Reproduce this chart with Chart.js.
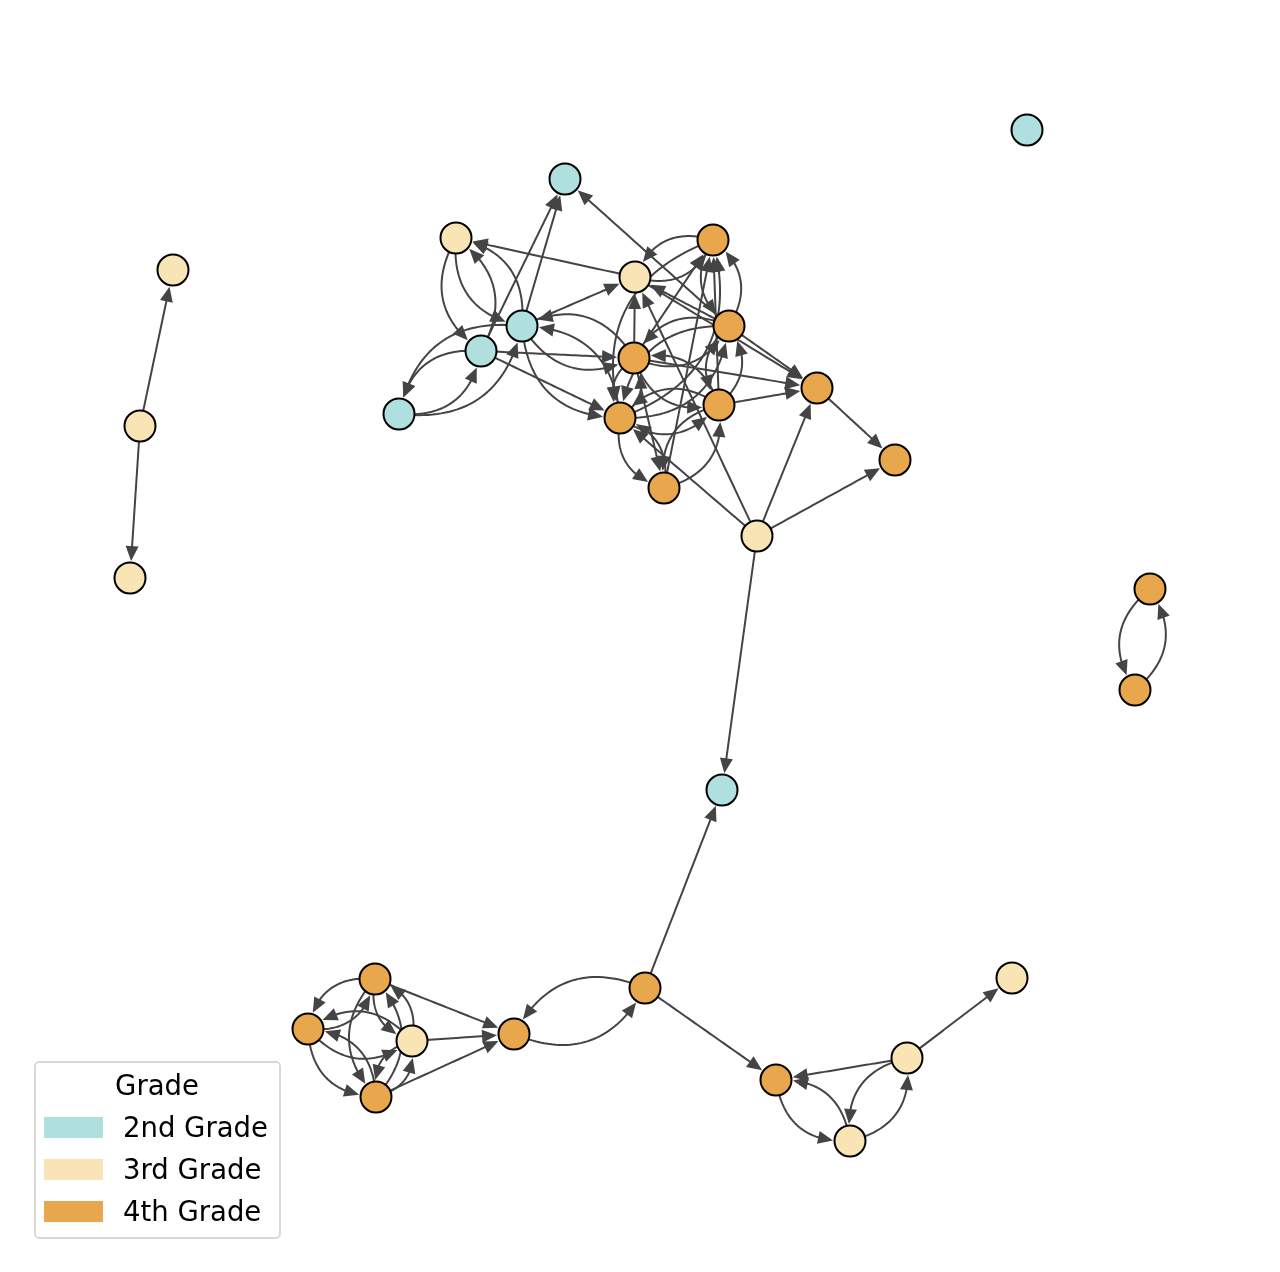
<!DOCTYPE html>
<html>
<head>
<meta charset="utf-8">
<script src="https://cdn.jsdelivr.net/npm/chart.js@4.4.0/dist/chart.umd.min.js"></script>
<style>
  html, body { margin: 0; padding: 0; background: #fff; }
  canvas { display: block; }
</style>
</head>
<body>
<canvas id="graph" width="1280" height="1272"></canvas>
<script>
// nodes: id, position (layout units = pixels of the 1280x1272 figure), grade index
const nodeIds = ['A','B','C','D','E','F','G','H','I','J','K','L','M','N','O','P',
                 'Q','R','S','T','U','V','W','X','Y','Z','AA','AB','AC','AD','AE','AF'];
const nodeX = [565, 456, 713, 635, 522, 729, 481, 634, 817, 399, 719, 620, 895, 664, 757, 722,
               1027, 173, 140, 130, 1150, 1135, 375, 308, 412, 376, 514, 645, 776, 907, 850, 1012];
const nodeY = [179, 238, 240, 277, 326, 326, 351, 358, 388, 414, 405, 418, 460, 488, 536, 790,
               130, 270, 426, 578, 589, 690, 979, 1029, 1041, 1097, 1034, 988, 1080, 1058, 1141, 978];
const nodeGrade = [0, 1, 2, 1, 0, 2, 0, 2, 2, 0, 2, 2, 2, 2, 1, 0,
                   0, 1, 1, 1, 2, 2, 2, 2, 1, 2, 2, 2, 2, 1, 1, 1];

const gradeLabels = ['2nd Grade', '3rd Grade', '4th Grade'];
const legendTitle = 'Grade';

// directed edges (from -> to)
const edgeFrom = ['F','G','E','D','B','G','B','E','J','G','J','E','E',
                  'E','H','E','L','G','G',
                  'C','D','H','F','O',
                  'C','F','K','H','L','C',
                  'F','H',
                  'D','F','H','K','O','I','O','O','O',
                  'H','L','L','N','N','K','K','L','H','K','F','K','L','F','H','N',
                  'S','S','U','V',
                  'AB','AB','AA','AB','AD','AD','AC','AE','AD','AE',
                  'W','X','X','Y','X','Z','W','Z','W','Y','Y','Z','W','Y','Z'];
const edgeTo   = ['A','A','A','B','G','B','E','B','G','J','E','J','D',
                  'H','E','L','E','H','L',
                  'D','C','D','D','D',
                  'F','C','C','C','C','L',
                  'H','F',
                  'I','I','I','I','I','M','M','P','L',
                  'L','H','N','L','K','N','L','K','K','H','K','F','F','L','N','C',
                  'R','T','V','U',
                  'P','AA','AB','AC','AC','AF','AE','AC','AE','AD',
                  'X','W','Y','X','Z','X','Z','W','Y','W','Z','Y','AA','AA','AA'];

const gradeColors = ['#B0DFE0', '#F8E4B4', '#E8A74C'];
const edgeColor = '#444444';

function nodePoints(g) {
  const pts = [];
  nodeIds.forEach((id, i) => {
    if (nodeGrade[i] === g) pts.push({ x: nodeX[i], y: nodeY[i] });
  });
  return pts;
}

// edges are drawn under the nodes, curved (arc3 style) when the reverse edge exists
const edgePlugin = {
  id: 'edges',
  beforeDatasetsDraw(chart) {
    const ctx = chart.ctx;
    const xs = chart.scales.x, ys = chart.scales.y;
    const pos = id => {
      const i = nodeIds.indexOf(id);
      return [xs.getPixelForValue(nodeX[i]), ys.getPixelForValue(nodeY[i])];
    };
    const keys = new Set(edgeFrom.map((f, i) => f + '>' + edgeTo[i]));
    const rStart = 15, rEnd = 17, headLen = 15, headHalf = 6.5;

    ctx.save();
    ctx.strokeStyle = edgeColor;
    ctx.fillStyle = edgeColor;
    ctx.lineWidth = 2;
    ctx.lineJoin = 'round';

    edgeFrom.forEach((f, i) => {
      const t = edgeTo[i];
      const [x1, y1] = pos(f), [x2, y2] = pos(t);
      const rad = keys.has(t + '>' + f) ? 0.45 : 0;
      const dx = x2 - x1, dy = y2 - y1;
      const cx = (x1 + x2) / 2 - rad * dy, cy = (y1 + y2) / 2 + rad * dx;
      const bz = s => [
        (1 - s) * (1 - s) * x1 + 2 * (1 - s) * s * cx + s * s * x2,
        (1 - s) * (1 - s) * y1 + 2 * (1 - s) * s * cy + s * s * y2
      ];
      // parameter where the curve is at distance d from an end point
      const findS = (d, fromEnd) => {
        let lo = fromEnd ? 0.5 : 0, hi = fromEnd ? 1 : 0.5;
        for (let k = 0; k < 40; k++) {
          const mid = (lo + hi) / 2;
          const p = bz(mid);
          const dist = fromEnd ? Math.hypot(p[0] - x2, p[1] - y2) : Math.hypot(p[0] - x1, p[1] - y1);
          if (fromEnd) { if (dist > d) lo = mid; else hi = mid; }
          else { if (dist < d) lo = mid; else hi = mid; }
        }
        return (lo + hi) / 2;
      };
      const s0 = findS(rStart, false);
      const sTip = findS(rEnd, true);
      const sBase = findS(rEnd + headLen - 2, true);
      const tip = bz(sTip);
      const base = bz(findS(rEnd + headLen, true));
      let ux = tip[0] - base[0], uy = tip[1] - base[1];
      const ul = Math.hypot(ux, uy) || 1;
      ux /= ul; uy /= ul;

      ctx.beginPath();
      const n = 30;
      for (let k = 0; k <= n; k++) {
        const p = bz(s0 + (sBase - s0) * k / n);
        if (k === 0) ctx.moveTo(p[0], p[1]); else ctx.lineTo(p[0], p[1]);
      }
      ctx.stroke();

      const bx = tip[0] - ux * headLen, by = tip[1] - uy * headLen;
      ctx.beginPath();
      ctx.moveTo(tip[0], tip[1]);
      ctx.lineTo(bx - uy * headHalf, by + ux * headHalf);
      ctx.lineTo(bx + uy * headHalf, by - ux * headHalf);
      ctx.closePath();
      ctx.fill();
    });
    ctx.restore();
  }
};

const legendPlugin = {
  id: 'gradeLegend',
  afterDraw(chart) {
    const ctx = chart.ctx;
    ctx.save();
    const bx = 35, by = 1062, bw = 245, bh = 176, r = 4;
    ctx.beginPath();
    ctx.moveTo(bx + r, by);
    ctx.arcTo(bx + bw, by, bx + bw, by + bh, r);
    ctx.arcTo(bx + bw, by + bh, bx, by + bh, r);
    ctx.arcTo(bx, by + bh, bx, by, r);
    ctx.arcTo(bx, by, bx + bw, by, r);
    ctx.closePath();
    ctx.fillStyle = 'rgba(255,255,255,0.8)';
    ctx.fill();
    ctx.strokeStyle = '#cccccc';
    ctx.lineWidth = 1.5;
    ctx.stroke();

    ctx.fillStyle = '#000';
    ctx.font = '27.5px "DejaVu Sans"';
    ctx.textBaseline = 'alphabetic';
    ctx.textAlign = 'center';
    ctx.fillText(legendTitle, 157, 1095);
    ctx.textAlign = 'left';
    gradeLabels.forEach((lab, g) => {
      const y = 1117 + g * 42;
      ctx.fillStyle = gradeColors[g];
      ctx.fillRect(44, y, 59, 21);
      ctx.fillStyle = '#000';
      ctx.fillText(lab, 123, y + 20);
    });
    ctx.restore();
  }
};

new Chart(document.getElementById('graph'), {
  type: 'scatter',
  data: {
    datasets: gradeLabels.map((lab, g) => ({
      label: lab,
      data: nodePoints(g),
      backgroundColor: gradeColors[g],
      borderColor: '#000000',
      borderWidth: 2,
      pointRadius: 15.5,
      pointHoverRadius: 15.5
    }))
  },
  options: {
    responsive: false,
    devicePixelRatio: 1,
    animation: false,
    layout: { padding: 0, autoPadding: false },
    scales: {
      x: { type: 'linear', min: 0, max: 1280, display: false },
      y: { type: 'linear', min: 0, max: 1272, reverse: true, display: false }
    },
    plugins: {
      legend: { display: false },
      tooltip: { enabled: false }
    }
  },
  plugins: [edgePlugin, legendPlugin]
});
</script>
</body>
</html>
